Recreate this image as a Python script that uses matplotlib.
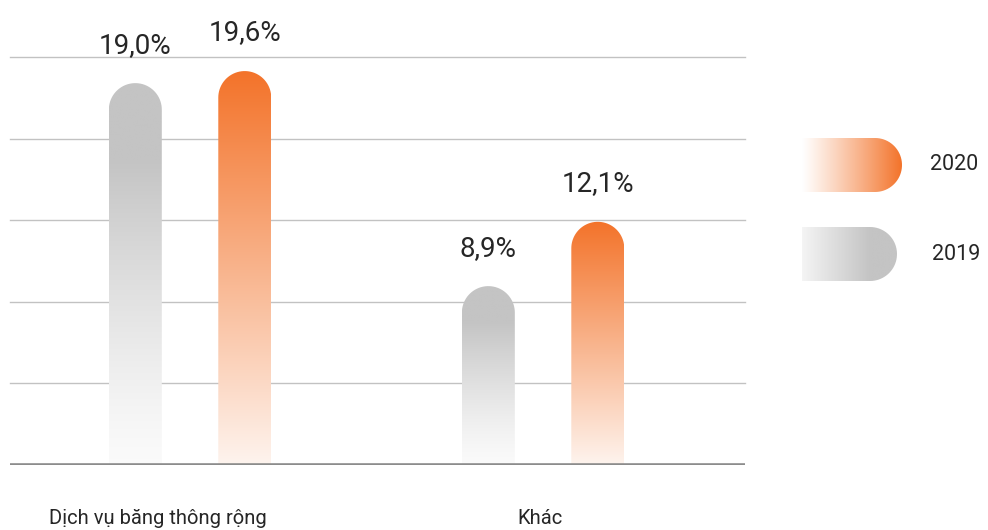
import numpy as np
import matplotlib
matplotlib.use("Agg")
import matplotlib.pyplot as plt
from matplotlib.path import Path
from matplotlib.patches import PathPatch

plt.rcParams['font.family'] = ['Roboto', 'DejaVu Sans']

# data
categories = ["Dịch vụ băng thông rộng", "Khác"]
years = ["2019", "2020"]
values_2019 = [19.0, 8.9]
values_2020 = [19.6, 12.1]
label_x = [-0.09, 0.99]  # category label positions

col_2019 = np.array([196, 196, 196]) / 255
col_2020 = np.array([243, 115, 42]) / 255
text_col = "#262626"

W, H, DPI = 988, 530, 100
fig = plt.figure(figsize=(W / DPI, H / DPI), dpi=DPI)

# main axes placed in pixel terms: x 10..745, y 57..465 (from top)
ax_l, ax_r, ax_t, ax_b = 10, 745, 57, 465
ax = fig.add_axes([ax_l / W, (H - ax_b) / H, (ax_r - ax_l) / W, (ax_b - ax_t) / H])
xmin, xmax = -0.51, 1.572
ymax = 20.3
ax.set_xlim(xmin, xmax)
ax.set_ylim(0, ymax)
for s in ax.spines.values():
    s.set_visible(False)
ax.set_yticks([])

# grid + baseline
for gy in np.linspace(0, ymax, 6)[1:]:
    ax.axhline(gy, color="#c2c2c2", lw=1.0, zorder=0, clip_on=False)
ax.axhline(0, color="#8c8c8c", lw=2.6, zorder=3)

px_x = (ax_r - ax_l) / (xmax - xmin)
px_y = (ax_b - ax_t) / ymax


def grad_colors(col, n, ramp):
    t = np.linspace(0, 1, n)
    f = np.clip(ramp(t), 0, 1)[:, None]
    return (1 - f) * np.ones(3) + f * col


def rounded_bar(xc, h, w, col, ramp):
    rx = w / 2
    ry = rx * px_x / px_y
    ang = np.linspace(np.pi, 0, 40)
    pts = [(xc - rx, 0), (xc - rx, h - ry)]
    pts += [(xc + rx * np.cos(a), h - ry + ry * np.sin(a)) for a in ang]
    pts += [(xc + rx, 0), (xc - rx, 0)]
    patch = PathPatch(Path(pts), facecolor="none", edgecolor="none")
    ax.add_patch(patch)
    img = grad_colors(col, 256, ramp)[::-1][:, None, :]
    im = ax.imshow(img, extent=[xc - rx, xc + rx, 0, h], aspect="auto",
                   interpolation="bilinear", zorder=2)
    im.set_clip_path(patch)


ramp_2019 = lambda t: 0.08 + 0.92 * np.clip(t / 0.8, 0, 1) ** 1.3
ramp_2020 = lambda t: 0.08 + 0.92 * t

offset, bw = 0.155, 0.15
x = np.arange(len(categories))
for i in range(len(categories)):
    for xv, v, col, ramp in [(x[i] - offset, values_2019[i], col_2019, ramp_2019),
                             (x[i] + offset, values_2020[i], col_2020, ramp_2020)]:
        rounded_bar(xv, v, bw, col, ramp)
        ax.annotate(f"{v:.1f}".replace(".", ",") + "%", (xv, v),
                    xytext=(0, 22), textcoords="offset points",
                    ha="center", va="baseline", fontsize=20,
                    color=text_col, annotation_clip=False)

ax.set_xticks(label_x)
ax.set_xticklabels(categories, fontsize=14.5, color=text_col)
ax.tick_params(axis="x", length=0, pad=32)
ax.set_xlim(xmin, xmax)

# legend in pixel coordinates
lg = fig.add_axes([0, 0, 1, 1], zorder=5)
lg.set_xlim(0, W)
lg.set_ylim(H, 0)
lg.axis("off")
lg.patch.set_alpha(0)


def pill(x0, x1, y0, y1, col, ramp):
    r = (y1 - y0) / 2
    yc = (y0 + y1) / 2
    ang = np.linspace(np.pi / 2, -np.pi / 2, 40)
    pts = [(x0, y0), (x1 - r, y0)]
    pts += [(x1 - r + r * np.cos(a), yc - r * np.sin(a)) for a in ang]
    pts += [(x0, y1), (x0, y0)]
    patch = PathPatch(Path(pts), facecolor="none", edgecolor="none")
    lg.add_patch(patch)
    img = grad_colors(col, 256, ramp)[None, :, :]
    im = lg.imshow(img, extent=[x0, x1, y1, y0], aspect="auto",
                   interpolation="bilinear")
    im.set_clip_path(patch)


pill(802, 902, 138, 192, col_2020, lambda t: t ** 1.1)
pill(802, 897, 227, 281, col_2019, lambda t: 0.18 + 0.82 * np.clip(t / 0.72, 0, 1))
lg.text(930, 165, years[1], fontsize=15.5, color=text_col, va="center", ha="left")
lg.text(932, 254, years[0], fontsize=15.5, color=text_col, va="center", ha="left")
lg.set_xlim(0, W)
lg.set_ylim(H, 0)

fig.savefig("out.png", dpi=DPI)
